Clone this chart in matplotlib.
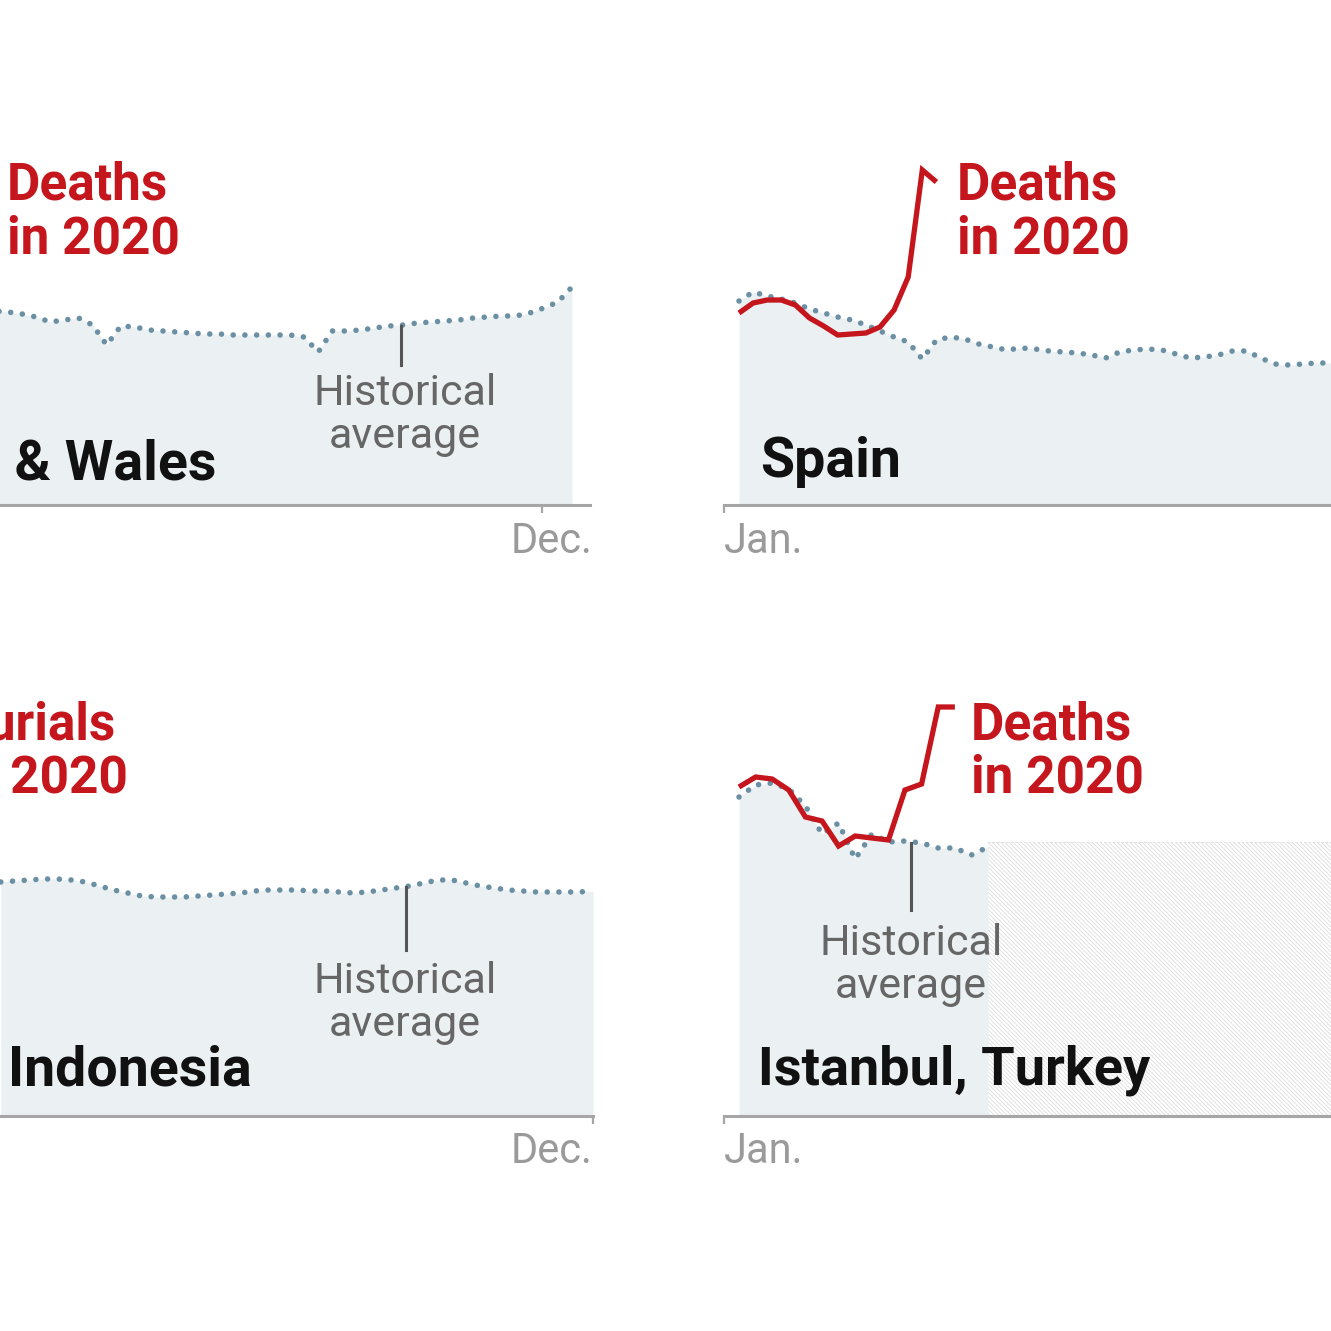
import numpy as np
import matplotlib.pyplot as plt

W = H = 1331
PPW = 14.1  # pixels per week, same on every panel

RED = '#c4161c'
DOT = '#6b8fa3'
FILL = '#ebf0f3'
AXIS = '#a6a6a6'
LABEL = '#666666'
TICKLAB = '#9a9a9a'
BOLD = ['Roboto', 'DejaVu Sans']
REG = ['Roboto', 'DejaVu Sans']

# ---- data: weekly values, height above the baseline (chart units) ----
# England & Wales, historical average, weeks 12-53
ew_weeks = np.arange(12, 54)
ew_hist = [194, 193, 191, 188, 183, 185, 187, 180, 160, 179, 178, 175, 174, 173,
           172, 171, 171, 170, 170, 170, 170, 170, 168, 153, 174, 174, 175, 177,
           179, 180, 182, 183, 184, 185, 187, 188, 189, 189, 192, 197, 203, 218]

# Spain, weeks 1-44 (historical) and 1-15 (2020)
sp_weeks = np.arange(1, 45)
sp_hist = [204, 213, 209, 206, 202, 196, 192, 188, 185, 180, 174, 168, 163, 146,
           165, 168, 166, 161, 158, 155, 157, 156, 154, 153, 152, 150, 147, 153,
           155, 156, 155, 151, 147, 148, 150, 154, 154, 147, 141, 140, 141, 142,
           142, 142]
sp_2020_weeks = np.arange(1, 16)
sp_2020 = [192, 202, 205, 205, 200, 187, 179, 170, 171, 172, 178, 195, 228, 335, 323]

# Indonesia (burials), historical average, weeks 11-53
id_weeks = np.arange(11, 54)
id_hist = [234, 235, 236, 237, 237, 236, 234, 230, 226, 223, 220, 219, 219, 219,
           220, 221, 222, 223, 225, 226, 226, 226, 225, 225, 224, 223, 224, 226,
           228, 230, 233, 236, 236, 233, 230, 228, 226, 225, 224, 224, 224, 224, 225]

# Istanbul, Turkey
ist_x = [1.0, 2.18, 3.35, 4.53, 5.71, 6.89, 8.06, 9.24, 10.42, 11.6, 12.77,
         13.95, 15.13, 16.31, 17.48, 18.66]
ist_hist = [319, 331, 333, 327, 310, 282, 293, 257, 282, 274, 275, 273, 268,
            268, 261, 269]
ist_2020 = [329, 339, 337, 326, 299, 295, 270, 280, 278, 276, 326, 332, 409, 409]
ist_nodata_top = 274

plt.rcParams['hatch.color'] = '#d6d6d6'
plt.rcParams['hatch.linewidth'] = 0.5

fig = plt.figure(figsize=(W / 100, H / 100), dpi=100)


def panel(left, right, top, base, week1_px):
    ax = fig.add_axes([left / W, 1 - base / H, (right - left) / W, (base - top) / H])
    ax.set_xlim(1 + (left - week1_px) / PPW, 1 + (right - week1_px) / PPW)
    ax.set_ylim(0, base - top)
    for s in ['top', 'left', 'right']:
        ax.spines[s].set_visible(False)
    ax.spines['bottom'].set_color(AXIS)
    ax.spines['bottom'].set_linewidth(2.2)
    ax.spines['bottom'].set_zorder(5)
    ax.set_yticks([])
    ax.patch.set_alpha(0)
    ax.tick_params(axis='x', length=6, width=1.6, color=AXIS, labelbottom=False)
    return ax


def hist_line(ax, x, y):
    ax.fill_between(x, 0, y, color=FILL, lw=0, zorder=1)
    ax.plot(x, y, color=DOT, lw=4.0, linestyle=(0, (0.01, 2.1)),
            dash_capstyle='round', zorder=3)


def red_line(ax, x, y):
    ax.plot(x, y, color=RED, lw=3.8, solid_joinstyle='miter',
            solid_capstyle='butt', zorder=4)


def px(x, y):
    return x / W, 1 - y / H


def txt(x, y, s, **kw):
    fig.text(*px(x, y), s, va='baseline', **kw)


# England & Wales
ax1 = panel(-250, 590, 100, 505, 572 - 52 * PPW)
hist_line(ax1, ew_weeks, ew_hist)
ax1.set_xticks([53 - 30 / PPW])
ax1.plot([40.9, 40.9], [179, 140], color='#555555', lw=2.2, zorder=3)

# Spain
ax2 = panel(724, 1420, 100, 505, 739)
hist_line(ax2, sp_weeks, sp_hist)
red_line(ax2, sp_2020_weeks, sp_2020)
ax2.set_xticks([ax2.get_xlim()[0]])

# Indonesia
ax3 = panel(-250, 593, 660, 1116, 593 - 52 * PPW)
hist_line(ax3, id_weeks, id_hist)
ax3.set_xticks([53])
ax3.plot([39.75, 39.75], [229, 166], color='#555555', lw=2.2, zorder=3)

# Istanbul
ax4 = panel(724, 1420, 660, 1116, 739)
ax4.fill_between([ist_x[-1], ax4.get_xlim()[1]], 0, ist_nodata_top,
                 facecolor='white', edgecolor='#d6d6d6', hatch='\\\\\\\\\\\\\\\\',
                 lw=0, zorder=1)
ax4.plot([ist_x[-1], ax4.get_xlim()[1]], [ist_nodata_top] * 2, color='#e0e0e0',
         lw=0.8, ls=(0, (2, 2)), zorder=1)
hist_line(ax4, ist_x, ist_hist)
red_line(ax4, ist_x[:len(ist_2020)], ist_2020)
ax4.set_xticks([ax4.get_xlim()[0]])
ax4.plot([13.2, 13.2], [273, 206], color='#555555', lw=2.2, zorder=3)

# red labels
for x0, y0, first in [(7, 200, 'Deaths'), (957, 200, 'Deaths'),
                      (-45, 740, 'Burials'), (971, 740, 'Deaths')]:
    txt(x0, y0, first, color=RED, fontsize=37, fontweight='bold', family=BOLD)
    txt(x0, y0 + 53, 'in 2020', color=RED, fontsize=37, fontweight='bold', family=BOLD)

# panel titles
txt(216, 480, 'England & Wales', ha='right', color='#111111', fontsize=40,
    fontweight='bold', family=BOLD)
txt(760, 477, 'Spain', color='#111111', fontsize=40, fontweight='bold', family=BOLD)
txt(8, 1085, 'Indonesia', color='#111111', fontsize=40, fontweight='bold', family=BOLD)
txt(758, 1085, 'Istanbul, Turkey', color='#111111', fontsize=39, fontweight='bold',
    family=BOLD)

# historical average labels
for cx, y0 in [(405, 405), (405, 993), (911, 955)]:
    txt(cx, y0, 'Historical', ha='center', color=LABEL, fontsize=31, family=REG)
    txt(cx, y0 + 43, 'average', ha='center', color=LABEL, fontsize=31, family=REG)

# axis labels
for x0, y0, s, ha in [(592, 553, 'Dec.', 'right'), (724, 553, 'Jan.', 'left'),
                      (592, 1163, 'Dec.', 'right'), (724, 1163, 'Jan.', 'left')]:
    txt(x0, y0, s, ha=ha, color=TICKLAB, fontsize=30, family=REG)

fig.savefig('out.png', dpi=100, facecolor='white')
